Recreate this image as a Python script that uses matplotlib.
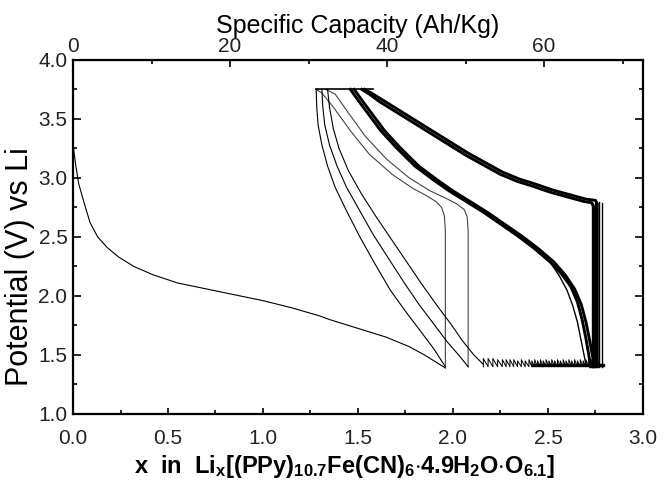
import matplotlib
matplotlib.use("Agg")
import matplotlib.pyplot as plt
from matplotlib.ticker import MultipleLocator, FixedLocator

plt.rcParams["font.family"] = ["Liberation Sans", "DejaVu Sans"]
plt.rcParams["mathtext.fontset"] = "custom"
plt.rcParams["mathtext.rm"] = "Liberation Sans:bold"
plt.rcParams["mathtext.it"] = "Liberation Sans:bold"
plt.rcParams["mathtext.bf"] = "Liberation Sans:bold"

# x in Li_x  ->  specific capacity (Ah/kg)
cap_per_x = 24.2
cap_ticks = [0, 20, 40, 60]
cap_minor = [10, 30, 50, 70]

# first discharge
d1_x = [0.0, 0.005, 0.015, 0.03, 0.06, 0.09, 0.13, 0.18, 0.24, 0.32, 0.42, 0.55, 0.70,
        0.85, 1.00, 1.15, 1.30, 1.35, 1.45, 1.55, 1.65, 1.77, 1.85, 1.91, 1.96]
d1_v = [3.30, 3.22, 3.10, 2.95, 2.78, 2.62, 2.50, 2.41, 2.33, 2.25, 2.18, 2.11, 2.06,
        2.01, 1.96, 1.90, 1.83, 1.80, 1.75, 1.70, 1.65, 1.57, 1.50, 1.44, 1.39]

# charges of the early cycles
c1_x = [1.96, 1.96, 1.955, 1.94, 1.91, 1.86, 1.79, 1.68, 1.56, 1.46, 1.37, 1.31, 1.28]
c1_v = [1.39, 2.55, 2.68, 2.75, 2.80, 2.85, 2.91, 3.03, 3.20, 3.40, 3.60, 3.72, 3.75]
c2_x = [2.08, 2.08, 2.075, 2.06, 2.02, 1.96, 1.88, 1.77, 1.65, 1.54, 1.45, 1.38, 1.33]
c2_v = [1.40, 2.55, 2.67, 2.73, 2.78, 2.83, 2.89, 3.00, 3.16, 3.35, 3.55, 3.71, 3.75]

# discharges of the early cycles
d2_x = [1.28, 1.283, 1.29, 1.31, 1.34, 1.38, 1.44, 1.51, 1.59, 1.67, 1.75, 1.83, 1.90, 1.96]
d2_v = [3.75, 3.60, 3.45, 3.28, 3.10, 2.92, 2.72, 2.50, 2.27, 2.05, 1.87, 1.70, 1.55, 1.40]
d3_x = [1.31, 1.315, 1.325, 1.35, 1.39, 1.44, 1.51, 1.58, 1.66, 1.74, 1.82, 1.90, 1.97, 2.03, 2.08]
d3_v = [3.75, 3.60, 3.45, 3.28, 3.10, 2.92, 2.72, 2.52, 2.32, 2.12, 1.93, 1.76, 1.61, 1.50, 1.40]
d4_x = [1.34, 1.35, 1.37, 1.40, 1.45, 1.52, 1.60, 1.68, 1.76, 1.84, 1.92, 1.99, 2.05, 2.11, 2.16]
d4_v = [3.75, 3.60, 3.42, 3.25, 3.06, 2.86, 2.66, 2.47, 2.28, 2.09, 1.91, 1.76, 1.62, 1.50, 1.42]

# later cycles (bundle)
da_x = [1.46, 1.50, 1.56, 1.62, 1.70, 1.80, 1.90, 1.98, 2.07, 2.16, 2.25, 2.34, 2.43, 2.51,
        2.57, 2.62, 2.655, 2.68, 2.70, 2.715, 2.725]
da_v = [3.75, 3.66, 3.53, 3.40, 3.26, 3.10, 2.98, 2.89, 2.80, 2.71, 2.61, 2.51, 2.40, 2.29,
        2.19, 2.08, 1.95, 1.80, 1.64, 1.50, 1.40]
db_x = [1.48, 1.52, 1.58, 1.64, 1.72, 1.82, 1.92, 2.00, 2.09, 2.18, 2.27, 2.36, 2.45, 2.53,
        2.59, 2.64, 2.675, 2.70, 2.72, 2.735, 2.745]
db_v = [3.75, 3.66, 3.53, 3.40, 3.26, 3.10, 2.98, 2.89, 2.80, 2.71, 2.61, 2.51, 2.40, 2.29,
        2.18, 2.06, 1.93, 1.78, 1.62, 1.49, 1.40]
dc_x = [2.43, 2.51, 2.56, 2.60, 2.63, 2.655, 2.675, 2.69, 2.70]
dc_v = [2.40, 2.29, 2.17, 2.05, 1.92, 1.78, 1.62, 1.50, 1.42]
ca_x = [2.74, 2.74, 2.73, 2.69, 2.60, 2.51, 2.42, 2.34, 2.25, 2.16, 2.07, 1.98, 1.90, 1.81,
        1.74, 1.67, 1.61, 1.56, 1.52]
ca_v = [1.40, 2.76, 2.79, 2.80, 2.84, 2.88, 2.93, 2.97, 3.03, 3.11, 3.19, 3.28, 3.36, 3.45,
        3.52, 3.59, 3.65, 3.71, 3.75]
cb_x = [2.76, 2.76, 2.75, 2.70, 2.61, 2.52, 2.43, 2.35, 2.26, 2.17, 2.08, 1.99, 1.91, 1.82,
        1.75, 1.68, 1.62, 1.57, 1.535]
cb_v = [1.40, 2.78, 2.81, 2.82, 2.86, 2.90, 2.95, 2.99, 3.05, 3.13, 3.21, 3.30, 3.38, 3.47,
        3.54, 3.61, 3.67, 3.72, 3.75]

# extra charge steps at the right edge
step_x = [2.73, 2.75, 2.77, 2.785]
step_top = [2.78, 2.79, 2.80, 2.79]

# potential cap at top
top_x = [1.28, 1.58]
top_v = [3.75, 3.75]

# saw-tooth near the 1.4 V cutoff
cutoff = 1.40
teeth_x = [2.16, 2.185, 2.21, 2.235, 2.26, 2.28, 2.30, 2.32, 2.34, 2.36, 2.38, 2.40,
           2.415, 2.43, 2.445, 2.46, 2.475, 2.49, 2.505, 2.52, 2.535, 2.55, 2.565, 2.58,
           2.595, 2.61, 2.625, 2.64, 2.655, 2.67, 2.685, 2.70, 2.715, 2.73, 2.745, 2.76]
teeth_top = [1.47, 1.47, 1.47, 1.46, 1.46, 1.46, 1.46, 1.46, 1.45, 1.46, 1.45, 1.46,
             1.45, 1.46, 1.45, 1.46, 1.45, 1.46, 1.45, 1.46, 1.45, 1.46, 1.45, 1.46,
             1.45, 1.46, 1.45, 1.46, 1.45, 1.46, 1.45, 1.46, 1.45, 1.46, 1.45, 1.45]
band_x = [2.42, 2.79]
band_v = [1.415, 1.415]

fig = plt.figure(figsize=(6.65, 4.87), dpi=100)
ax = fig.add_axes([0.1098, 0.150, 0.857, 0.727])

ax.plot(d1_x, d1_v, color="black", lw=0.8)
ax.plot(c1_x, c1_v, color="#444444", lw=0.8)
ax.plot(c2_x, c2_v, color="#444444", lw=0.8)
for dx, dv in [(d2_x, d2_v), (d3_x, d3_v), (d4_x, d4_v)]:
    ax.plot(dx, dv, color="black", lw=0.8)
ax.plot(top_x, top_v, color="black", lw=1.2)

for dx, dv in [(da_x, da_v), (db_x, db_v), (ca_x, ca_v), (cb_x, cb_v)]:
    ax.plot(dx, dv, color="black", lw=2.1)
ax.plot(dc_x, dc_v, color="black", lw=1.0)
for sx, st in zip(step_x, step_top):
    ax.plot([sx, sx], [cutoff, st], color="black", lw=1.0)

saw_x, saw_v = [], []
for i, tx in enumerate(teeth_x):
    saw_x += [tx, tx]
    saw_v += [cutoff, teeth_top[i]]
saw_x.append(teeth_x[-1] + 0.015)
saw_v.append(cutoff)
ax.plot(saw_x, saw_v, color="black", lw=0.7)
ax.plot(band_x, band_v, color="black", lw=2.4)

ax.set_xlim(0, 3.0)
ax.set_ylim(1.0, 4.0)
ax.xaxis.set_major_locator(MultipleLocator(0.5))
ax.xaxis.set_minor_locator(MultipleLocator(0.25))
ax.yaxis.set_major_locator(MultipleLocator(0.5))
ax.yaxis.set_minor_locator(MultipleLocator(0.25))
ax.xaxis.set_major_formatter(lambda v, p: f"{v:.1f}")
ax.yaxis.set_major_formatter(lambda v, p: f"{v:.1f}")
ax.tick_params(which="both", direction="in", right=True, width=1.2, labelsize=15,
               labelcolor="#222222")
ax.tick_params(axis="y", which="major", length=6, pad=4)
ax.tick_params(axis="y", which="minor", length=3)
ax.tick_params(axis="x", which="major", length=4, pad=11)
ax.tick_params(axis="x", which="minor", length=3)
for s in ax.spines.values():
    s.set_linewidth(1.6)

top = ax.secondary_xaxis("top", functions=(lambda x: x * cap_per_x, lambda c: c / cap_per_x))
top.xaxis.set_major_locator(FixedLocator(cap_ticks))
top.xaxis.set_minor_locator(FixedLocator(cap_minor))
top.tick_params(which="both", direction="in", width=1.2, labelsize=15, pad=3,
                labelcolor="#222222")
top.tick_params(which="major", length=5)
top.tick_params(which="minor", length=3)
top.set_xlabel("Specific Capacity (Ah/Kg)", fontsize=18, labelpad=3)

ax.set_ylabel("Potential (V) vs Li", fontsize=22)
ax.yaxis.set_label_coords(-0.066, 0.415)
ax.set_xlabel(r"x  in  Li$_\mathrm{x}$[(PPy)$_{10.7}$Fe(CN)$_6$$\cdot$4.9H$_2$O$\cdot$O$_{6.1}$]",
              fontsize=17, fontweight="bold")
ax.xaxis.set_label_coords(0.477, -0.11)

fig.savefig("out.png", dpi=100)
